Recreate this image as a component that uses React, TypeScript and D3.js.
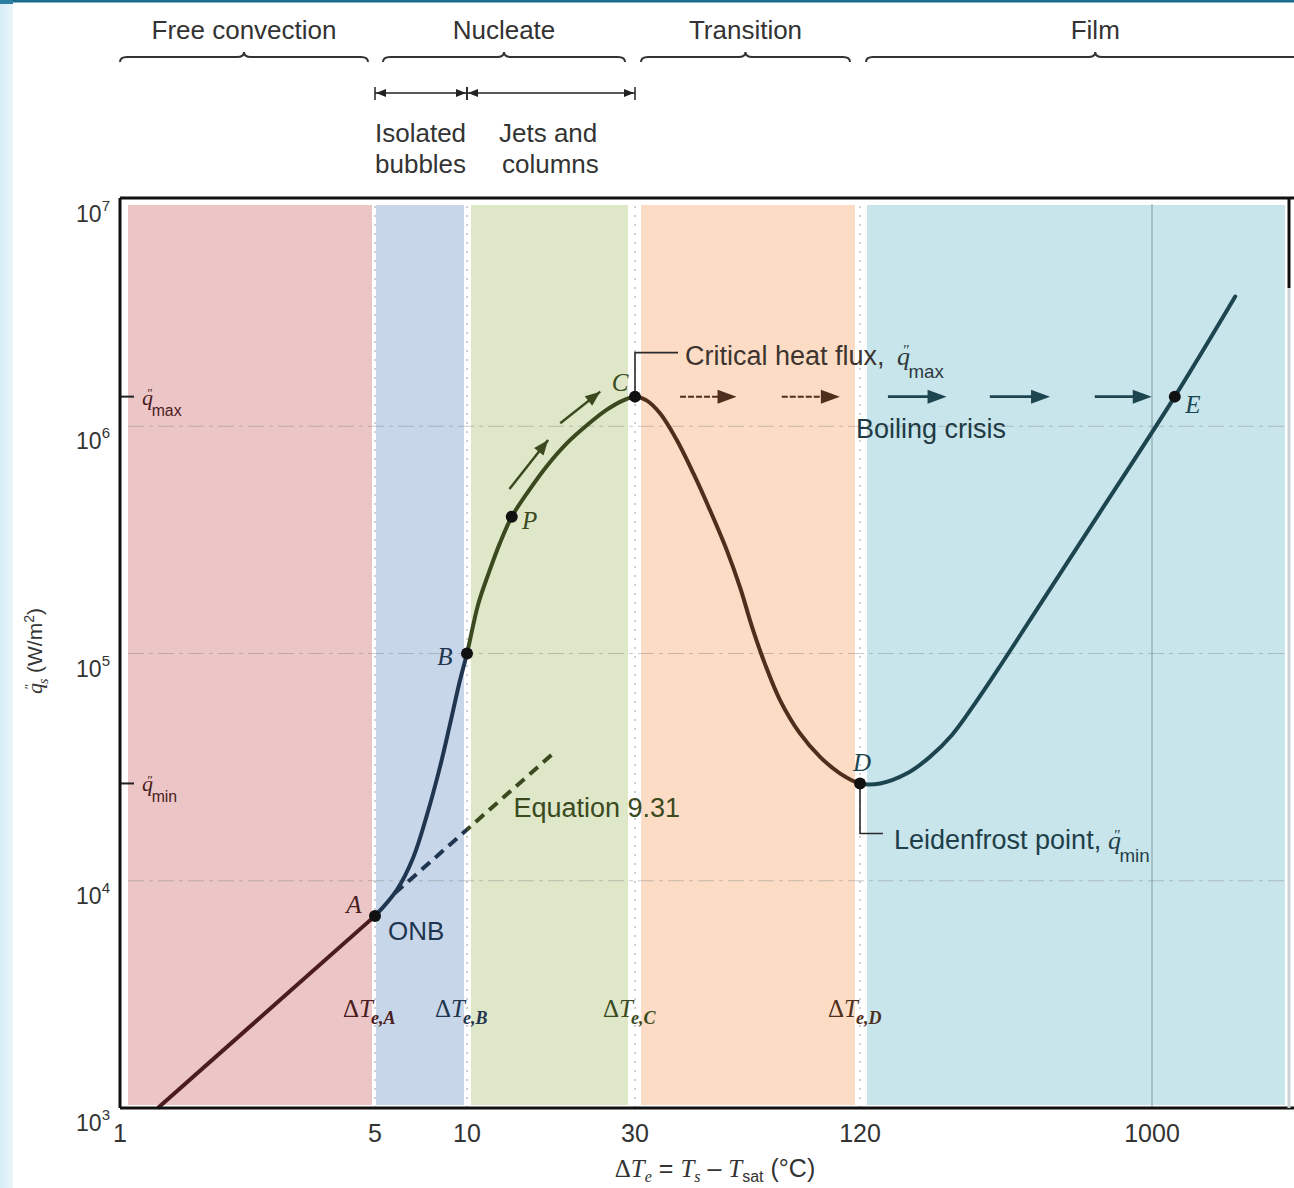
import React from "react";
import * as d3 from "d3";

// axis values as printed on the figure
const tempTicks = [1, 5, 10, 30, 120, 1000];
const fluxTicks = [1e3, 1e4, 1e5, 1e6, 1e7];
const fluxGrid = [1e4, 1e5, 1e6];
const tempGrid = [1000];

// boiling regimes along ΔTe (°C)
const regimeNames = ["Free convection", "Nucleate", "Transition", "Film"];
const regimeFrom = [1, 5, 30, 120];
const regimeTo = [5, 30, 120, 3500];

const subRegimeLines = [["Isolated", "bubbles"], ["Jets and", "columns"]];
const subRegimeFrom = [5, 10];
const subRegimeTo = [10, 30];

// shaded bands
const bandFrom = [1, 5, 10, 30, 120];
const bandTo = [5, 10, 30, 120, 2700];

// boiling curve, q"s (W/m2) against ΔTe (°C)
const curveTemp = [
  1.27, 5, 5.89, 6.66, 7.38, 8.16, 8.8, 9.49, 10, 10.75, 11.55, 12.4, 13.4, 14.8, 16.8, 19.2, 21.9, 24.9, 27.8,
  30, 32.2, 35, 38.8, 43, 47.6, 52.8, 57.4, 61.7, 66.8, 73.3, 82.8, 93.8, 106, 120,
  139, 169, 199, 234, 277, 332, 477, 686, 1180, 1830,
];
const curveFlux = [
  1.0e3, 7.0e3, 9.1e3, 1.26e4, 1.93e4, 3.17e4, 4.89e4, 7.64e4, 1.0e5, 1.64e5, 2.28e5, 3.06e5, 4.0e5, 5.07e5, 6.64e5, 8.41e5, 1.01e6, 1.18e6, 1.3e6,
  1.35e6, 1.3e6, 1.14e6, 8.7e5, 6.2e5, 4.28e5, 2.85e5, 1.94e5, 1.31e5, 9.0e4, 6.24e4, 4.46e4, 3.51e4, 2.97e4, 2.68e4,
  2.68e4, 2.97e4, 3.5e4, 4.38e4, 6.05e4, 8.81e4, 1.92e5, 4.19e5, 1.35e6, 3.72e6,
];

const pointNames = ["A", "B", "P", "C", "D", "E"];
const pointTemp = [5, 10, 13.4, 30, 120, 1180];
const pointFlux = [7.0e3, 1.0e5, 4.0e5, 1.35e6, 2.68e4, 1.35e6];

const qMax = 1.35e6;
const qMin = 2.68e4;

// Equation 9.31 (dashed)
const eqTemp = [5.8, 17.6];
const eqFlux = [8.8e3, 3.64e4];

// arrows riding along the nucleate branch
const riseFromTemp = [13.2, 18.4];
const riseFromFlux = [5.3e5, 1.03e6];
const riseToTemp = [17.0, 23.9];
const riseToFlux = [8.7e5, 1.42e6];

// boiling crisis jump arrows at q"max
const crisisFromTemp = [39.6, 74.1, 147, 308, 660];
const crisisToTemp = [56.1, 106, 225, 477, 998];

const deltaNames = ["A", "B", "C", "D"];
const deltaTemp = [5, 10, 30, 120];

// ---- styling ----
const W = 1294;
const H = 1188;
const plot = { left: 120, right: 1289, top: 198, bottom: 1108 };
const bandColors = ["#ecc6c7", "#c7d7e9", "#dfe7c9", "#fcdcc5", "#c8e5ec"];
const inkColors = ["#4b1c1e", "#1f3550", "#3a4a1e", "#4e2f1d", "#1c4550"];
const bandPadL = [8, 1, 4, 6, 7];
const bandPadR = [3, 3, 7, 5, 4];
const bracePadL = [0, 8, 6, 6];
const bracePadR = [7, 10, 10, 0];
const pointDx = [-21, -22, 18, -15, 2, 18];
const pointDy = [-3, 11, 12, -6, -12, 16];
const sans = "'Liberation Sans', Arial, sans-serif";
const serif = "'Liberation Serif', 'Times New Roman', serif";

// the printed temperature axis is hand drawn and not evenly logarithmic,
// so the scale is piecewise between the labelled ticks
const x = d3.scaleLog().domain(tempTicks).range([120, 375, 467, 635, 860, 1152]);
const y = d3.scaleLog().domain([1e3, 1e7]).range([1108, 199]);

const bandOf = (t: number) => Math.max(0, d3.bisectRight(bandFrom, t) - 1);

const curvePts: [number, number][] = curveTemp.map((t, i) => [t, curveFlux[i]]);
const smooth = d3
  .line<[number, number]>()
  .x((d) => x(d[0]))
  .y((d) => y(d[1]))
  .curve(d3.curveCatmullRom.alpha(0.5));
const straight = d3
  .line<[number, number]>()
  .x((d) => x(d[0]))
  .y((d) => y(d[1]));

const convectionPath = straight(curvePts.slice(0, 2)) as string;
const boilingPath = smooth(curvePts.slice(1)) as string;
const eqPath = straight(eqTemp.map((t, i) => [t, eqFlux[i]] as [number, number])) as string;

function head(x1: number, y1: number, x2: number, y2: number, len: number, half: number) {
  const a = Math.atan2(y2 - y1, x2 - x1);
  const bx = x2 - len * Math.cos(a);
  const by = y2 - len * Math.sin(a);
  const px = -Math.sin(a) * half;
  const py = Math.cos(a) * half;
  return `${x2},${y2} ${bx + px},${by + py} ${bx - px},${by - py}`;
}

function brace(x0: number, x1: number, xm: number, yb: number) {
  const r = 7;
  return `M${x0},${yb + 5} Q${x0},${yb} ${x0 + r},${yb} L${xm - r},${yb} Q${xm},${yb} ${xm},${yb - 5} Q${xm},${yb} ${xm + r},${yb} L${x1 - r},${yb} Q${x1},${yb} ${x1},${yb + 5}`;
}

// q" with a subscript, e.g. q"max
function QLabel({ x0, y0, sub, size, fill }: { x0: number; y0: number; sub: string; size: number; fill: string }) {
  return (
    <g fill={fill}>
      <text x={x0} y={y0} fontFamily={serif} fontStyle="italic" fontSize={size}>q</text>
      <text x={x0 + size * 0.2} y={y0 - size * 0.36} fontFamily={serif} fontStyle="italic" fontSize={size * 0.6}>″</text>
      <text x={x0 + size * 0.44} y={y0 + size * 0.5} fontFamily={sans} fontSize={size * 0.72}>{sub}</text>
    </g>
  );
}

export default function App() {
  const clipX0 = bandFrom.map((t, i) => (i === 0 ? 0 : x(t)));
  const clipX1 = bandTo.map((t, i) => (i === bandTo.length - 1 ? W : x(t)));
  const yMax = y(qMax);
  const yMin = y(qMin);

  return (
    <svg
      width={W}
      height={H}
      style={{ position: "absolute", left: 0, top: 0, background: "#fff" }}
      fontFamily={sans}
    >
      <defs>
        {bandFrom.map((_, i) => (
          <clipPath id={`band-clip-${i}`} key={i}>
            <rect x={clipX0[i]} y={0} width={clipX1[i] - clipX0[i]} height={H} />
          </clipPath>
        ))}
        <linearGradient id="side" x1="0" x2="1" y1="0" y2="0">
          <stop offset="0" stopColor="#d6ecf5" />
          <stop offset="1" stopColor="#eaf6fb" />
        </linearGradient>
      </defs>

      <rect x={0} y={0} width={13} height={H} fill="url(#side)" />
      <rect x={0} y={0} width={W} height={2.5} fill="#1b6b8c" />
      <rect x={0} y={0} width={13} height={4} fill="#2a7fa3" />

      {/* regime bands */}
      {bandFrom.map((t, i) => {
        const x0 = (i === 0 ? plot.left : x(t)) + bandPadL[i];
        const x1 = (i === bandFrom.length - 1 ? plot.right : x(bandTo[i])) - bandPadR[i];
        return (
          <rect key={i} x={x0} y={plot.top + 7} width={x1 - x0} height={plot.bottom - plot.top - 10} fill={bandColors[i]} />
        );
      })}

      {/* dotted boundaries */}
      {deltaTemp.map((t) => (
        <line key={t} x1={x(t)} x2={x(t)} y1={plot.top + 8} y2={plot.bottom} stroke="#555" strokeWidth={1} strokeDasharray="2 7" opacity={0.55} />
      ))}

      {/* grid */}
      {fluxGrid.map((q) => (
        <line key={q} x1={plot.left + 8} x2={plot.right - 4} y1={y(q)} y2={y(q)} stroke="#7d7d7d" strokeWidth={1.2} strokeDasharray="16 5 4 5" opacity={0.4} />
      ))}
      {tempGrid.map((t) => (
        <line key={t} x1={x(t)} x2={x(t)} y1={plot.top + 6} y2={plot.bottom} stroke="#5f7f88" strokeWidth={1} opacity={0.7} />
      ))}

      {/* q"max / q"min ticks */}
      <line x1={plot.left} x2={plot.left + 14} y1={yMax} y2={yMax} stroke="#222" strokeWidth={2} />
      <line x1={plot.left} x2={plot.left + 14} y1={yMin} y2={yMin} stroke="#222" strokeWidth={2} />
      <QLabel x0={plot.left + 22} y0={yMax + 8} sub="max" size={22} fill={inkColors[0]} />
      <QLabel x0={plot.left + 22} y0={yMin + 8} sub="min" size={22} fill={inkColors[0]} />

      {/* curve and Equation 9.31, colour changes with each band */}
      {bandFrom.map((_, i) => (
        <g key={i} clipPath={`url(#band-clip-${i})`}>
          <path d={eqPath} fill="none" stroke={inkColors[i]} strokeWidth={4} strokeDasharray="11 7" />
          <path d={convectionPath} fill="none" stroke={inkColors[i]} strokeWidth={4} />
          <path d={boilingPath} fill="none" stroke={inkColors[i]} strokeWidth={4} strokeLinecap="round" />
        </g>
      ))}

      {/* arrows along the nucleate branch */}
      {riseFromTemp.map((t, i) => {
        const x1 = x(t), y1 = y(riseFromFlux[i]);
        const x2 = x(riseToTemp[i]), y2 = y(riseToFlux[i]);
        return (
          <g key={i} fill={inkColors[2]} stroke={inkColors[2]}>
            <line x1={x1} y1={y1} x2={x2} y2={y2} strokeWidth={2.5} />
            <polygon points={head(x1, y1, x2, y2, 15, 6)} stroke="none" />
          </g>
        );
      })}

      {/* boiling crisis arrows */}
      {crisisFromTemp.map((t, i) => {
        const b = bandOf(t);
        const x1 = x(t), x2 = x(crisisToTemp[i]);
        return (
          <g key={i} fill={inkColors[b]} stroke={inkColors[b]}>
            <line x1={x1} y1={yMax} x2={x2 - 10} y2={yMax} strokeWidth={b === 3 ? 2 : 2.8} strokeDasharray={b === 3 ? "6 2" : undefined} />
            <polygon points={head(x1, yMax, x2, yMax, 19, 7)} stroke="none" />
          </g>
        );
      })}

      {/* leader lines */}
      <polyline points={`${x(30)},${yMax} ${x(30)},${yMax - 44} ${x(30) + 43},${yMax - 44}`} fill="none" stroke="#2a2a2a" strokeWidth={1.6} />
      <polyline points={`${x(120)},${yMin} ${x(120)},${yMin + 50} ${x(120) + 23},${yMin + 50}`} fill="none" stroke="#2a2a2a" strokeWidth={1.6} />

      {/* points */}
      {pointNames.map((n, i) => {
        const px = x(pointTemp[i]);
        const py = y(pointFlux[i]);
        const ink = inkColors[bandOf(pointTemp[i] * (n === "A" || n === "B" || n === "C" ? 0.9 : 1))];
        return (
          <g key={n}>
            <circle cx={px} cy={py} r={6} fill="#111" />
            <text x={px + pointDx[i]} y={py + pointDy[i]} textAnchor="middle" fontFamily={serif} fontStyle="italic" fontSize={25} fill={ink}>
              {n}
            </text>
          </g>
        );
      })}

      {/* annotations */}
      <text x={x(5) + 13} y={y(7e3) + 24} fontSize={26} fill={inkColors[1]}>ONB</text>
      <text x={x(eqTemp[1]) - 40} y={y(eqFlux[1]) + 64} fontSize={27} fill={inkColors[2]}>Equation 9.31</text>
      <text x={x(30) + 50} y={yMax - 32} fontSize={27} fill="#3d3430">Critical heat flux,</text>
      <QLabel x0={x(30) + 262} y0={yMax - 32} sub="max" size={26} fill="#2c3a3e" />
      <text x={x(120) - 4} y={yMax + 41} fontSize={27} fill="#1f3a42">Boiling crisis</text>
      <text x={x(120) + 34} y={yMin + 66} fontSize={27} fill="#1f3f48">Leidenfrost point,</text>
      <QLabel x0={x(120) + 248} y0={yMin + 66} sub="min" size={26} fill="#1f3f48" />

      {/* ΔTe,X markers */}
      {deltaNames.map((n, i) => (
        <text key={n} x={x(deltaTemp[i]) - 32} y={1017} fontFamily={serif} fontSize={25} fill={inkColors[bandOf(deltaTemp[i]) - 1]}>
          Δ<tspan fontStyle="italic">T</tspan>
          <tspan dx={-2} dy={7} fontSize={18} fontStyle="italic" fontWeight="bold">{`e,${n}`}</tspan>
        </text>
      ))}

      {/* frame */}
      <line x1={plot.left} x2={W} y1={plot.top} y2={plot.top} stroke="#111" strokeWidth={3} />
      <line x1={plot.left} x2={W} y1={plot.bottom} y2={plot.bottom} stroke="#111" strokeWidth={3} />
      <line x1={plot.left} x2={plot.left} y1={plot.top} y2={plot.bottom} stroke="#111" strokeWidth={3} />
      <line x1={plot.right} x2={plot.right} y1={plot.top} y2={plot.top + 90} stroke="#111" strokeWidth={3} />
      <line x1={plot.right} x2={plot.right} y1={plot.top + 90} y2={plot.bottom} stroke="#c9d3d6" strokeWidth={3} />

      {/* y ticks */}
      {fluxTicks.map((q) => (
        <text key={q} x={110} y={y(q) + 23} textAnchor="end" fontSize={23} fill="#333">
          10<tspan dy={-11} fontSize={15}>{Math.round(Math.log10(q))}</tspan>
        </text>
      ))}
      {/* x ticks */}
      {tempTicks.map((t) => (
        <text key={t} x={x(t)} y={1142} textAnchor="middle" fontSize={25} fill="#333">
          {t}
        </text>
      ))}

      {/* axis titles */}
      <text x={715} y={1177} textAnchor="middle" fontSize={25} fill="#333">
        <tspan fontFamily={serif}>Δ</tspan>
        <tspan fontFamily={serif} fontStyle="italic">T</tspan>
        <tspan dy={5} fontSize={16} fontFamily={serif} fontStyle="italic">e</tspan>
        <tspan dy={-5}>{" = "}</tspan>
        <tspan fontFamily={serif} fontStyle="italic">T</tspan>
        <tspan dy={5} fontSize={16} fontFamily={serif} fontStyle="italic">s</tspan>
        <tspan dy={-5}>{" – "}</tspan>
        <tspan fontFamily={serif} fontStyle="italic">T</tspan>
        <tspan dy={5} fontSize={16}>sat</tspan>
        <tspan dy={-5}>{" (°C)"}</tspan>
      </text>
      <g transform="translate(42,648) rotate(-90)" fill="#333">
        <text x={-46} y={0} fontFamily={serif} fontStyle="italic" fontSize={22}>q</text>
        <text x={-42} y={-9} fontFamily={serif} fontStyle="italic" fontSize={13}>″</text>
        <text x={-36} y={6} fontFamily={serif} fontStyle="italic" fontSize={14}>s</text>
        <text x={-25} y={0} fontSize={21}>
          (W/m<tspan dy={-8} fontSize={14}>2</tspan><tspan dy={8}>)</tspan>
        </text>
      </g>

      {/* regime headings with braces */}
      {regimeNames.map((n, i) => {
        const x0 = x(regimeFrom[i]) + bracePadL[i];
        const x1 = x(regimeTo[i]) - bracePadR[i];
        const xm = (x0 + x1) / 2;
        return (
          <g key={n}>
            <text x={xm} y={39} textAnchor="middle" fontSize={26} fill="#333">{n}</text>
            <path d={brace(x0, x1, xm, 57)} fill="none" stroke="#333" strokeWidth={2} />
          </g>
        );
      })}

      {/* nucleate sub-regimes */}
      {subRegimeLines.map((lines, i) => {
        const x0 = x(subRegimeFrom[i]);
        const x1 = x(subRegimeTo[i]);
        const yy = 93;
        return (
          <g key={i} stroke="#222" fill="#222">
            <line x1={x0} x2={x1} y1={yy} y2={yy} strokeWidth={1.5} />
            <line x1={x0} x2={x0} y1={yy - 6} y2={yy + 7} strokeWidth={1.5} />
            <line x1={x1} x2={x1} y1={yy - 6} y2={yy + 7} strokeWidth={1.5} />
            <polygon points={head(x1 - 20, yy, x0 + 1, yy, 10, 4)} stroke="none" />
            <polygon points={head(x0 + 20, yy, x1 - 1, yy, 10, 4)} stroke="none" />
            {lines.map((l, j) => (
              <text key={j} x={x0 + (i === 0 ? 0 : 32 + j * 3)} y={142 + j * 31} fontSize={26} fill="#333" stroke="none">
                {l}
              </text>
            ))}
          </g>
        );
      })}
    </svg>
  );
}
